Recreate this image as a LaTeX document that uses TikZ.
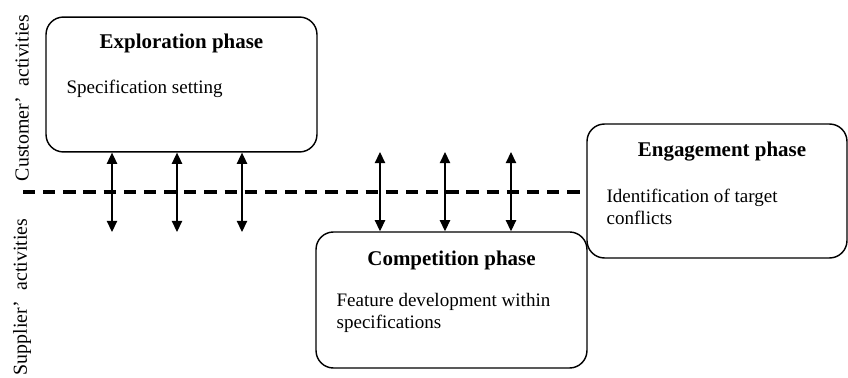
\documentclass[tikz,border=0pt]{standalone}
\usepackage{fontspec}
\setmainfont{Liberation Serif}
\usetikzlibrary{arrows.meta}

\begin{document}
\begin{tikzpicture}[x=0.63pt,y=-0.63pt,
  phase/.style={draw,rounded corners=11pt,line width=0.9pt,inner sep=0pt},
  title/.style={anchor=base,font=\fontsize{13.2}{15}\selectfont\bfseries},
  body/.style={anchor=north west,align=left,inner sep=0pt,font=\fontsize{12}{13.9}\selectfont},
  side/.style={rotate=90,font=\fontsize{12.5}{15}\selectfont},
  dbl/.style={{Triangle[length=7pt,width=6.5pt]}-{Triangle[length=7pt,width=6.5pt]},line width=0.75pt}]
\useasboundingbox (0,0) rectangle (848,378);
% phases
\node[phase,minimum width=170.7pt,minimum height=85pt] (expl) at (181.5,84.5) {};
\node[phase,minimum width=163.8pt,minimum height=84.4pt] (eng) at (717,191) {};
\node[phase,minimum width=170.7pt,minimum height=85.7pt] (comp) at (451.5,300) {};
\node[title] (expltitle) at ([shift={(0,32)}]expl.north) {Exploration phase};
\node[title] (engtitle) at ([shift={(5,33)}]eng.north) {Engagement phase};
\node[title] (comptitle) at ([shift={(0,34)}]comp.north) {Competition phase};
\node[body] (explbody) at ([shift={(21,63)}]expl.north west) {Specification setting};
\node[body] (engbody) at ([shift={(20,65)}]eng.north west) {Identification of target\\conflicts};
\node[body] (compbody) at ([shift={(21,62)}]comp.north west) {Feature development within\\specifications};
% sides
\node[side] (cust) at (22,98) {Customer’\ \ activities};
\node[side] (supp) at (22,297) {Supplier’\ \ activities};
\coordinate (dstart) at (23,192);
\draw[line width=1.9pt,dash pattern=on 7.7pt off 5pt] (dstart) -- (dstart -| eng.west);
% interaction arrows
\foreach \x [count=\i] in {112,177,242}{
  \coordinate (lo\i) at (\x,232);
  \draw[dbl] (expl.south -| lo\i) -- (lo\i);
}
\foreach \x [count=\i] in {380,445,511}{
  \coordinate (up\i) at (\x,152);
  \draw[dbl] (up\i) -- (comp.north -| up\i);
}
\end{tikzpicture}
\end{document}
